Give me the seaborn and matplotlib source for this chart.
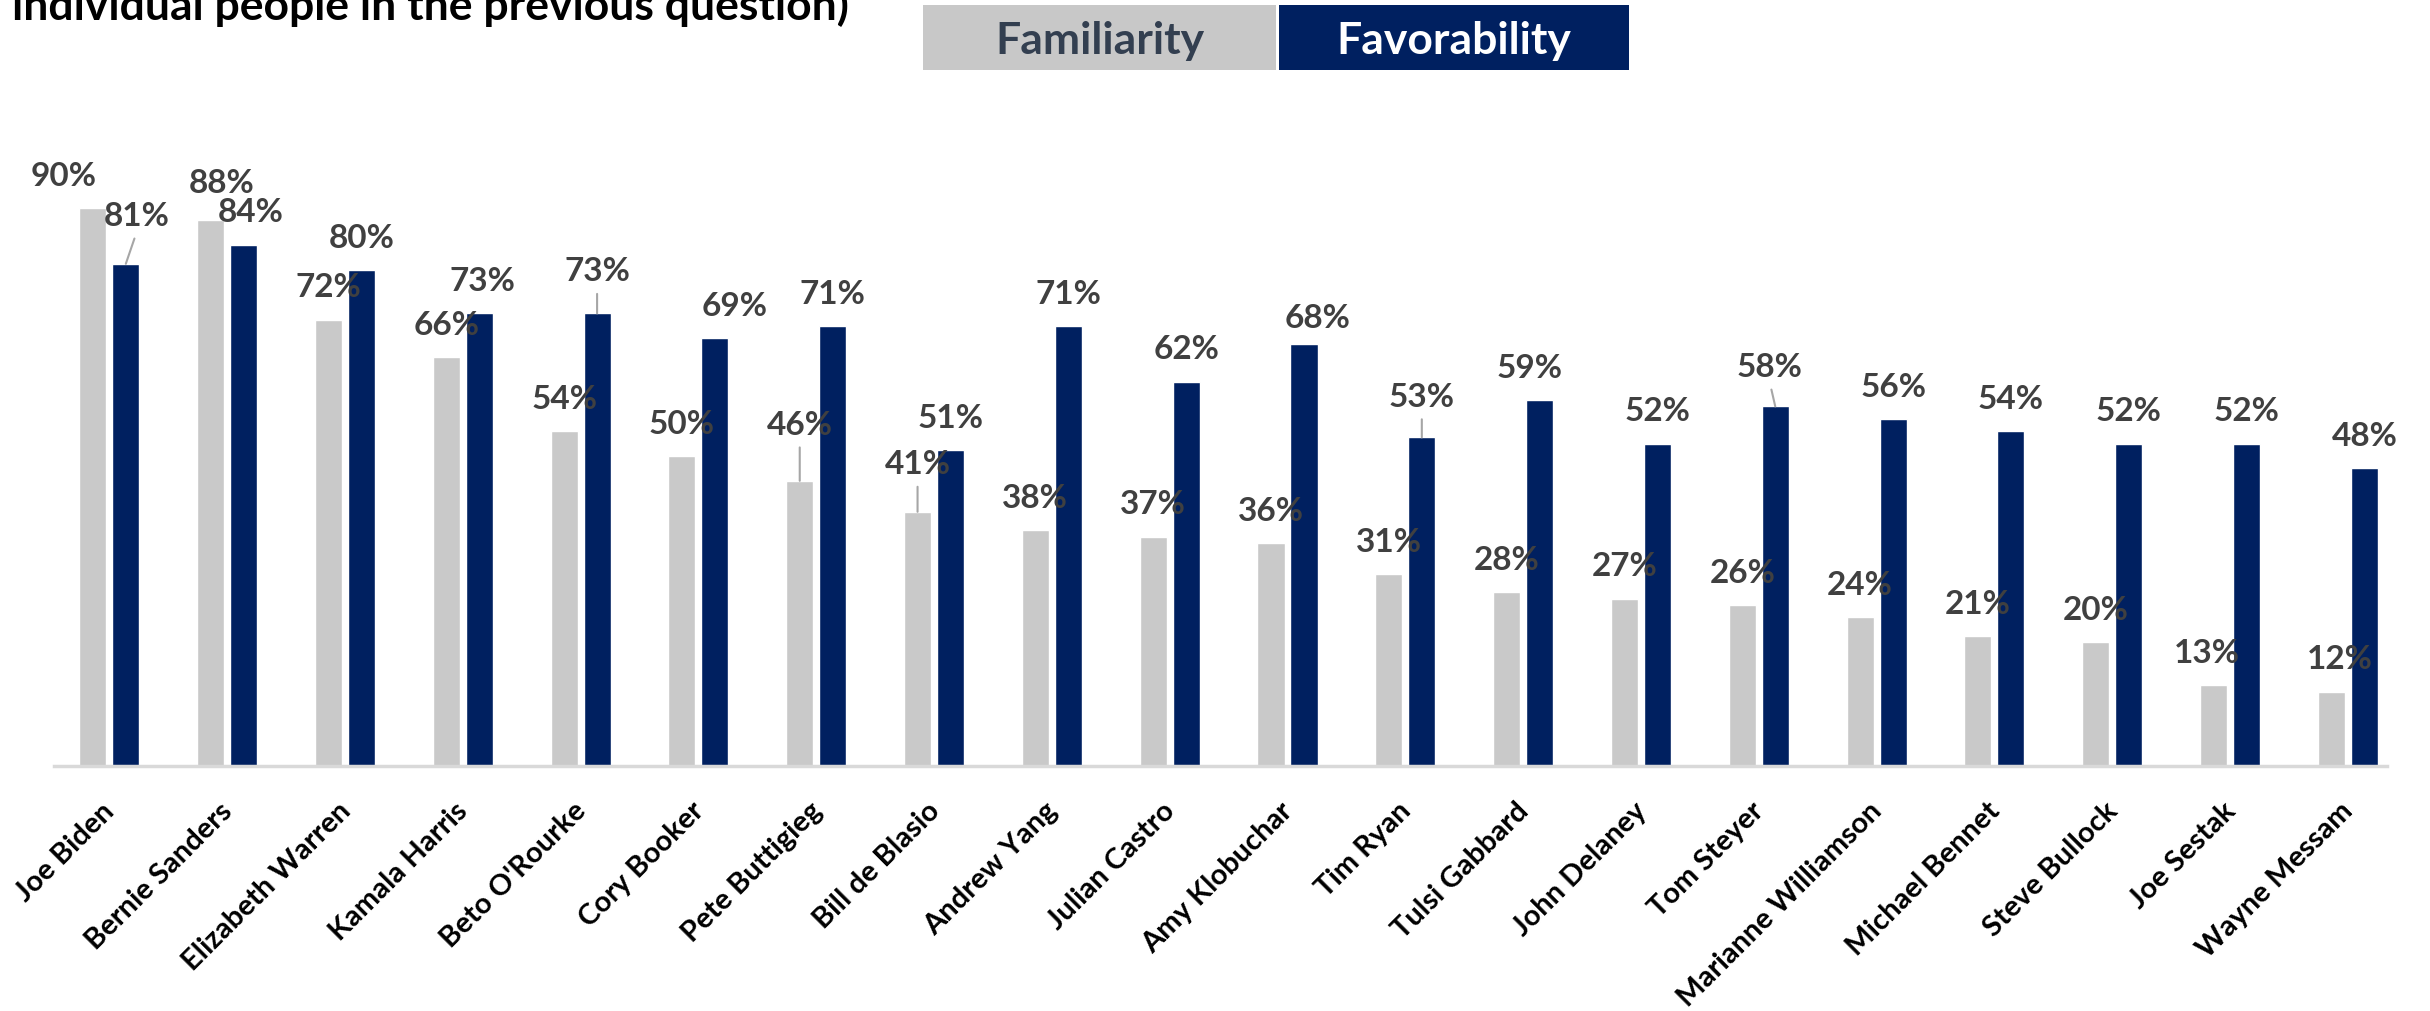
import pandas as pd
import numpy as np
import seaborn as sns
import matplotlib.pyplot as plt
import matplotlib.transforms as mtransforms
from matplotlib.patches import Rectangle

# Data
candidates = ['Joe Biden', 'Bernie Sanders', 'Elizabeth Warren', 'Kamala Harris',
              "Beto O'Rourke", 'Cory Booker', 'Pete Buttigieg', 'Bill de Blasio',
              'Andrew Yang', 'Julian Castro', 'Amy Klobuchar', 'Tim Ryan',
              'Tulsi Gabbard', 'John Delaney', 'Tom Steyer', 'Marianne Williamson',
              'Michael Bennet', 'Steve Bullock', 'Joe Sestak', 'Wayne Messam']
familiarity = [90, 88, 72, 66, 54, 50, 46, 41, 38, 37, 36, 31, 28, 27, 26, 24, 21, 20, 13, 12]
favorability = [81, 84, 80, 73, 73, 69, 71, 51, 71, 62, 68, 53, 59, 52, 58, 56, 54, 52, 52, 48]
series_names = ['Familiarity', 'Favorability']

GRAY = '#C9C9C9'
NAVY = '#002060'
LABEL = '#404040'

df = pd.DataFrame({
    'Candidate': candidates * 2,
    'Series': [series_names[0]] * len(candidates) + [series_names[1]] * len(candidates),
    'Value': familiarity + favorability,
})

sns.set_style("white")
plt.rcParams['font.family'] = ['Lato', 'DejaVu Sans']

fig = plt.figure(figsize=(24.3, 10.11), dpi=100)
ax = fig.add_axes([0.0222, 0.2423, 0.960, 0.6133])

sns.barplot(data=df, x='Candidate', y='Value', hue='Series', palette=[GRAY, NAVY],
            width=0.56, gap=0.18, saturation=1, legend=False, ax=ax)

ax.set_ylim(0, 100)
ax.set_xlim(-0.47, 19.33)
ax.set_yticks([])
ax.set_xlabel('')
ax.set_ylabel('')
for s in ['top', 'right', 'left']:
    ax.spines[s].set_visible(False)
ax.spines['bottom'].set_color('#D9D9D9')
ax.spines['bottom'].set_linewidth(2.5)

# category labels, rotated like the original
ax.tick_params(axis='x', length=0, pad=23)
shift = mtransforms.ScaledTranslation(-8 / 100, 0, fig.dpi_scale_trans)
for lab in ax.get_xticklabels():
    lab.set_rotation(45)
    lab.set_ha('right')
    lab.set_va('top')
    lab.set_rotation_mode('anchor')
    lab.set_fontsize(21)
    lab.set_fontweight('bold')
    lab.set_color('black')
    lab.set_transform(lab.get_transform() + shift)

# manual nudges of data labels (points), keyed by (candidate index, series index)
nudges = {
    (0, 0): (-21, 0), (0, 1): (8, 11),
    (1, 0): (8, 4), (1, 1): (5, 1),
    (3, 1): (2, 0), (4, 1): (0, 7),
    (5, 1): (14, 0),
    (6, 0): (0, 17), (7, 0): (0, 11),
    (10, 1): (10, -4), (11, 1): (0, 6),
    (12, 1): (-7, 0), (14, 1): (-4, 5),
    (18, 0): (-5, 0), (19, 0): (6, 0),
}
leaders = {(0, 1), (4, 1), (6, 0), (7, 0), (11, 1), (14, 1)}

values = [familiarity, favorability]
for s, cont in enumerate(ax.containers):
    for i, bar in enumerate(cont):
        dx, dy = nudges.get((i, s), (0, 0))
        x = bar.get_x() + bar.get_width() / 2
        y = bar.get_height()
        ap = None
        if (i, s) in leaders:
            ap = dict(arrowstyle='-', color='#A6A6A6', lw=1.5,
                      relpos=(0.5, 0), shrinkA=3, shrinkB=0)
        ax.annotate(f'{values[s][i]}%', (x, y), xytext=(dx, 16 + dy),
                    textcoords='offset points', ha='center', va='baseline',
                    fontsize=24, fontweight='bold', color=LABEL,
                    arrowprops=ap, annotation_clip=False)

# legend boxes at the top
fig.add_artist(Rectangle((0.380, 0.931), 0.145, 0.064, transform=fig.transFigure,
                         facecolor='#C8C8C8', edgecolor='none'))
fig.add_artist(Rectangle((0.5263, 0.931), 0.144, 0.064, transform=fig.transFigure,
                         facecolor=NAVY, edgecolor='none'))
fig.text(0.4525, 0.959, series_names[0], ha='center', va='center',
         fontsize=32, fontweight='bold', color='#333F50')
fig.text(0.5983, 0.959, series_names[1], ha='center', va='center',
         fontsize=32, fontweight='bold', color='white')

# cut-off second line of the slide title
fig.text(0.005, 1 - 20 / 1011, 'individual people in the previous question)',
         ha='left', va='baseline', fontsize=32, fontweight='bold', color='black')

fig.savefig('out.png', dpi=100)
